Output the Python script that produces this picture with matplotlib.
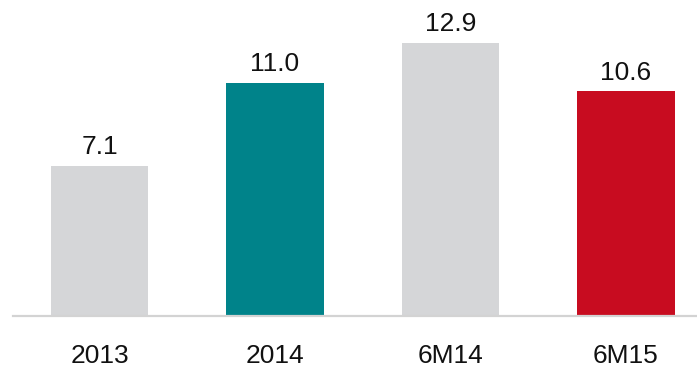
import matplotlib
matplotlib.use("Agg")
import matplotlib.pyplot as plt

categories = ["2013", "2014", "6M14", "6M15"]
values = [7.1, 11.0, 12.9, 10.6]
colors = ["#D5D6D8", "#00838A", "#D5D6D8", "#C80C20"]

plt.rcParams["font.family"] = ["Liberation Sans", "DejaVu Sans"]

W, H = 697, 369
fig = plt.figure(figsize=(W / 100, H / 100), dpi=100)
ax = fig.add_axes([13 / W, 53 / H, 684 / W, 316 / H])

x = list(range(len(categories)))
ax.bar(x, values, width=0.555, color=colors)
for xi, v in zip(x, values):
    ax.annotate(f"{v:.1f}", (xi, v), xytext=(0, 5), textcoords="offset points",
                ha="center", va="bottom", fontsize=19, color="#111111")

ax.set_xlim(-0.493, 3.405)
ax.set_ylim(0, 14.92)
ax.set_xticks(x)
ax.set_xticklabels(categories, fontsize=19, color="#111111")
ax.tick_params(axis="x", length=0, pad=20)
ax.set_yticks([])
for s in ["top", "right", "left"]:
    ax.spines[s].set_visible(False)
ax.spines["bottom"].set_color("#D3D3D3")
ax.spines["bottom"].set_linewidth(1.6)

fig.savefig("out.png", dpi=100)
